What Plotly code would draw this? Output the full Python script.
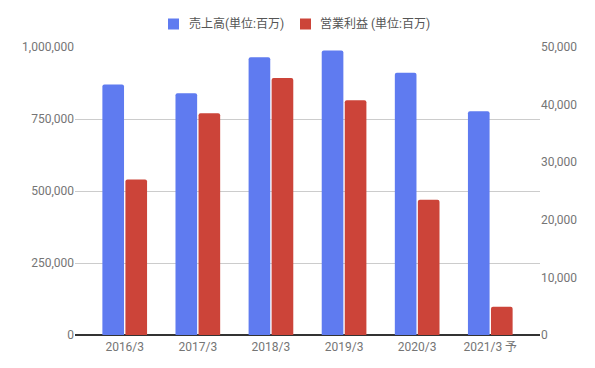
import plotly.graph_objects as go

categories = ["2016/3", "2017/3", "2018/3", "2019/3", "2020/3", "2021/3 予"]
sales = [870000, 839000, 964000, 988000, 911000, 777000]
op_profit = [27000, 38500, 44600, 40750, 23500, 4900]
left_ticks = [0, 250000, 500000, 750000, 1000000]
right_ticks = [0, 10000, 20000, 30000, 40000, 50000]
series_names = ["売上高(単位:百万)", "営業利益 (単位:百万)"]
series_colors = ["#5f7bf0", "#cc4439"]

FONT = "Roboto, 'Noto Sans CJK JP', sans-serif"
GRAY = "#757575"

W, H = 595, 368
L, R, T, B = 75, 55, 47, 33
PW, PH = W - L - R, H - T - B


def px_x(px):
    return (px - L) / PW


def px_y(py):
    return (H - B - py) / PH


fig = go.Figure()
fig.add_trace(go.Bar(x=categories, y=sales, name=series_names[0],
                     marker=dict(color=series_colors[0], line=dict(width=0)),
                     offsetgroup="a", yaxis="y", showlegend=False))
fig.add_trace(go.Bar(x=categories, y=op_profit, name=series_names[1],
                     marker=dict(color=series_colors[1], line=dict(width=0)),
                     offsetgroup="b", yaxis="y2", showlegend=False))

# legend drawn as shapes + text (Google-chart style)
legend_items = [(168, 187), (300, 318)]
shapes, annotations = [], []
for (sx, tx), name, col in zip(legend_items, series_names, series_colors):
    shapes.append(dict(type="rect", xref="paper", yref="paper",
                       x0=px_x(sx), x1=px_x(sx + 11), y0=px_y(29.5), y1=px_y(18.5),
                       fillcolor=col, line=dict(width=0)))
    annotations.append(dict(text=name, xref="paper", yref="paper",
                            x=px_x(tx), y=px_y(24), xanchor="left", yanchor="middle",
                            showarrow=False, font=dict(size=12, color="#555555")))

fig.update_layout(
    width=W, height=H,
    margin=dict(l=L, r=R, t=T, b=B, autoexpand=False),
    paper_bgcolor="white", plot_bgcolor="white",
    font=dict(family=FONT, size=12, color=GRAY),
    barmode="group", bargap=0.37, bargroupgap=0.06,
    barcornerradius=2,
    showlegend=False,
    shapes=shapes, annotations=annotations,
    xaxis=dict(range=[-0.68, 5.68], showgrid=False, ticks="",
               tickfont=dict(size=12, color=GRAY), ticklabelstandoff=3,
               showline=False, zeroline=False),
    yaxis=dict(range=[0, 1000000], tickvals=left_ticks, tickformat=",",
               showgrid=True, gridcolor="#cccccc", gridwidth=1,
               zeroline=True, zerolinecolor="#333333", zerolinewidth=1.5,
               ticks="", tickfont=dict(size=12, color=GRAY)),
    yaxis2=dict(range=[0, 50000], tickvals=right_ticks, tickformat=",",
                overlaying="y", side="right", showgrid=False, zeroline=False,
                ticks="", tickfont=dict(size=12, color=GRAY)),
)

fig.write_html("out.html",
               config={"displayModeBar": False},
               post_script="document.body.style.margin='0';document.body.style.overflow='hidden';")
